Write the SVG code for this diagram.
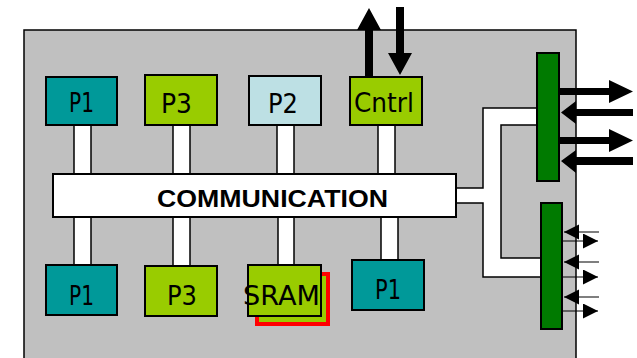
<svg xmlns="http://www.w3.org/2000/svg" width="637" height="358" viewBox="0 0 637 358">
  <style>
    .chip { fill: #c0c0c0; stroke: #000; stroke-width: 1.5; }
    .box { stroke: #000; stroke-width: 2; }
    .teal { fill: #009999; }
    .lime { fill: #99cc00; }
    .ice { fill: #bde0e4; }
    .stub { fill: #fff; stroke: #000; stroke-width: 1.5; }
    .port { fill: #007a00; stroke: #000; stroke-width: 2; }
    .lbl { font-family: "Comic Sans MS", "DejaVu Sans", sans-serif; font-size: 26px; fill: #000; }
    .bus { fill: #fff; stroke: #000; stroke-width: 2; }
    .busTxt { font-family: "Liberation Sans", Arial, sans-serif; font-weight: bold; font-size: 23px; fill: #000; }
    .big { fill: #000; }
    .thin { stroke: #000; stroke-width: 1.2; fill: none; marker-end: url(#tip); }
  </style>
  <defs>
    <marker id="tip" markerUnits="userSpaceOnUse" markerWidth="16" markerHeight="16" refX="15" refY="7.5" orient="auto">
      <path d="M0,0 L15,7.5 L0,15 z" fill="#000"/>
    </marker>
  </defs>

  <!-- chip outline -->
  <rect class="chip" x="24" y="30" width="552" height="340"/>

  <g id="connectors">
    <!-- stubs from modules to the bus -->
    <rect class="stub" x="74" y="124" width="17" height="51"/>
    <rect class="stub" x="173" y="124" width="17" height="51"/>
    <rect class="stub" x="277" y="124" width="17" height="51"/>
    <rect class="stub" x="378" y="124" width="17" height="51"/>
    <rect class="stub" x="74" y="216" width="17" height="50"/>
    <rect class="stub" x="173" y="216" width="17" height="51"/>
    <rect class="stub" x="278" y="216" width="16" height="50"/>
    <rect class="stub" x="381" y="216" width="17" height="45"/>
    <!-- bus to I/O ports -->
    <polygon class="stub" points="456,188 483,188 483,108 538,108 538,125 501,125 501,258 542,258 542,277 483,277 483,203 456,203"/>

    <!-- control in/out -->
    <polygon class="big" points="365,77 373,77 373,30 381,30 369,8 357,30 365,30"/>
    <polygon class="big" points="396,7 404,7 404,53 412,53 400,75 388,53 396,53"/>

    <!-- wide port arrows -->
    <polygon class="big" points="559,88 609,88 609,80 633,91.5 609,103 609,95 559,95"/>
    <polygon class="big" points="633,109 576,109 576,101 561,112.5 576,124 576,116 633,116"/>
    <polygon class="big" points="559,137 609,137 609,129 633,140.5 609,152 609,144 559,144"/>
    <polygon class="big" points="633,157 576,157 576,150 561,161 576,173 576,165 633,165"/>

    <!-- narrow port arrows -->
    <line class="thin" x1="599" y1="232" x2="564" y2="232"/>
    <line class="thin" x1="562" y1="241" x2="598" y2="241"/>
    <line class="thin" x1="599" y1="262" x2="564" y2="262"/>
    <line class="thin" x1="562" y1="277" x2="598" y2="277"/>
    <line class="thin" x1="599" y1="297" x2="564" y2="297"/>
    <line class="thin" x1="562" y1="311" x2="598" y2="311"/>
  </g>

  <g id="bus">
    <rect class="bus" x="53" y="174" width="403" height="43"/>
    <text class="busTxt" x="157" y="207" textLength="231" lengthAdjust="spacingAndGlyphs">COMMUNICATION</text>
  </g>

  <g id="p1-top">
    <rect class="box teal" x="46" y="77" width="71" height="48"/>
    <text class="lbl" x="69" y="112" textLength="25" lengthAdjust="spacingAndGlyphs">P1</text>
  </g>
  <g id="p3-top">
    <rect class="box lime" x="145" y="75" width="72" height="50"/>
    <text class="lbl" x="161" y="113" textLength="31" lengthAdjust="spacingAndGlyphs">P3</text>
  </g>
  <g id="p2-top">
    <rect class="box ice" x="249" y="76" width="72" height="49"/>
    <text class="lbl" x="268" y="113" textLength="30" lengthAdjust="spacingAndGlyphs">P2</text>
  </g>
  <g id="cntrl">
    <rect class="box lime" x="350" y="77" width="72" height="48"/>
    <text class="lbl" x="354" y="112" textLength="60" lengthAdjust="spacingAndGlyphs">Cntrl</text>
  </g>

  <g id="p1-bottom">
    <rect class="box teal" x="46" y="265" width="71" height="50"/>
    <text class="lbl" x="69" y="305" textLength="25" lengthAdjust="spacingAndGlyphs">P1</text>
  </g>
  <g id="p3-bottom">
    <rect class="box lime" x="145" y="266" width="72" height="50"/>
    <text class="lbl" x="167" y="305" textLength="30" lengthAdjust="spacingAndGlyphs">P3</text>
  </g>
  <g id="sram">
    <rect x="257" y="274" width="71" height="50" fill="#99cc00" stroke="#ff0000" stroke-width="4"/>
    <rect class="box lime" x="248" y="265" width="73" height="51"/>
    <text class="lbl" x="243" y="305" textLength="77" lengthAdjust="spacingAndGlyphs">SRAM</text>
  </g>
  <g id="p1-right">
    <rect class="box teal" x="352" y="260" width="72" height="50"/>
    <text class="lbl" x="375" y="299" textLength="26" lengthAdjust="spacingAndGlyphs">P1</text>
  </g>

  <g id="port-wide">
    <rect class="port" x="537" y="53" width="22" height="128"/>
  </g>
  <g id="port-narrow">
    <rect class="port" x="541" y="203" width="21" height="126"/>
  </g>
</svg>
